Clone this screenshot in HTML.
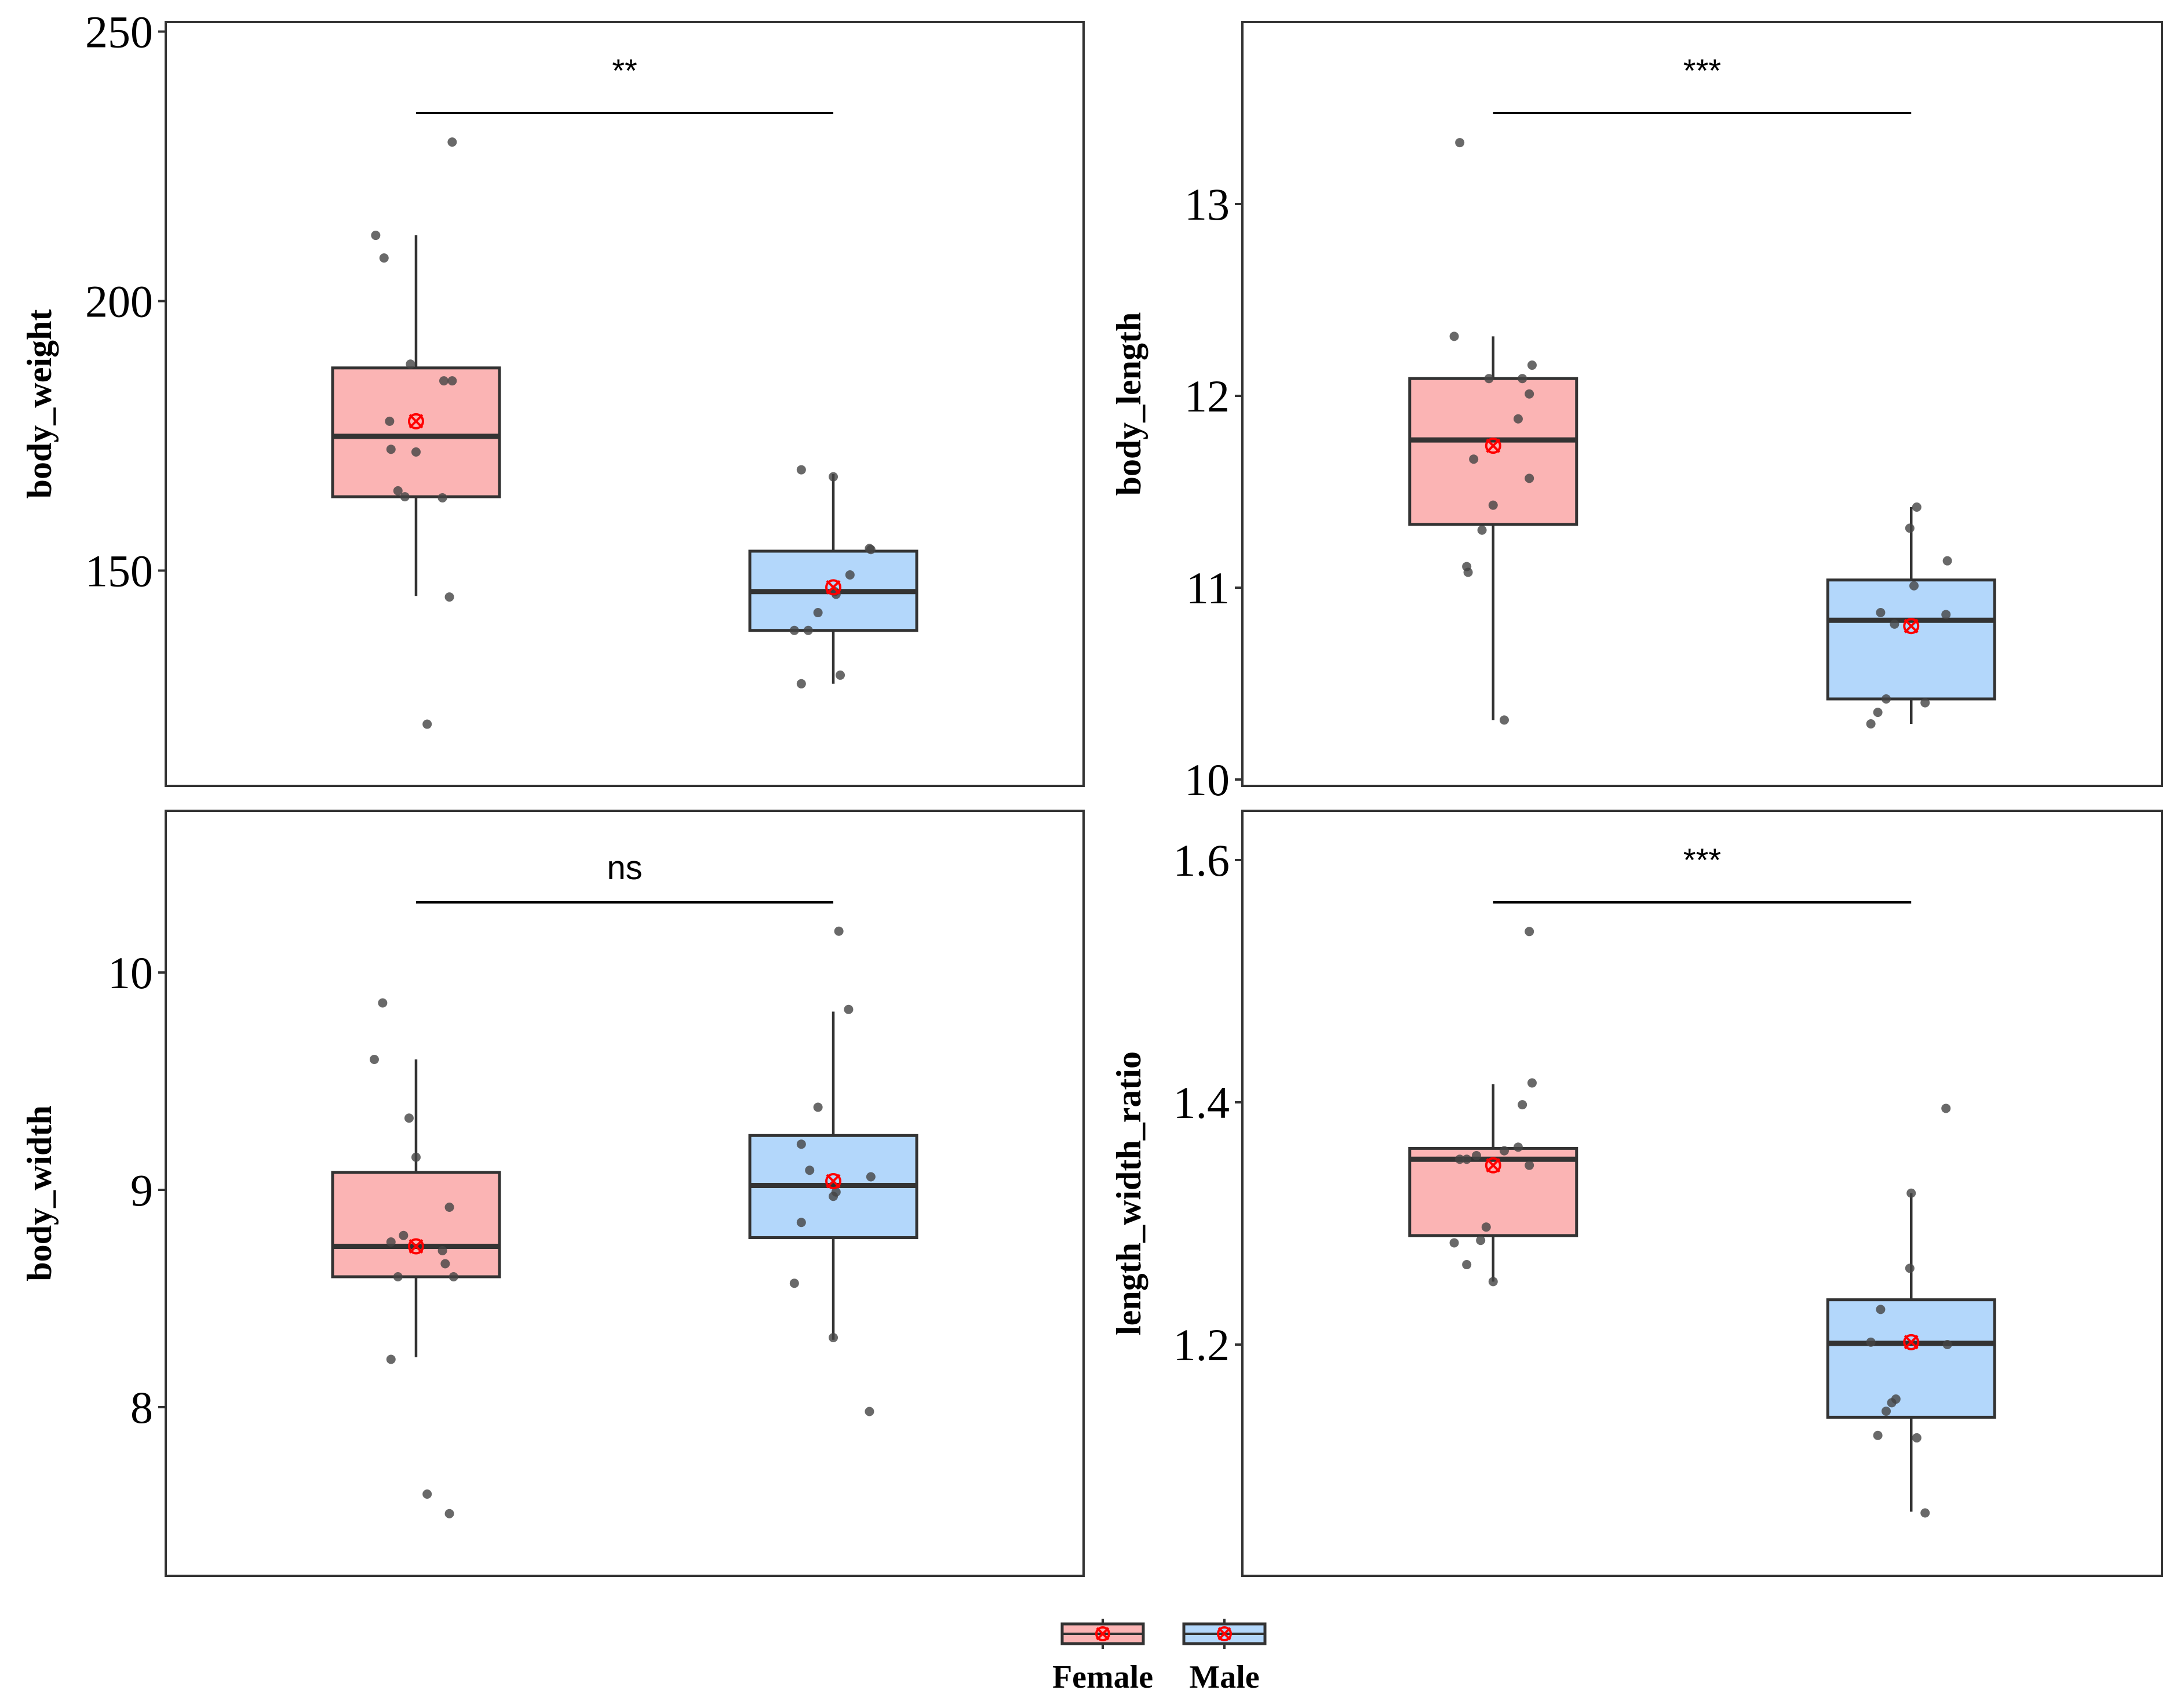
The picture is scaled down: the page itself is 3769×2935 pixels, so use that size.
<!DOCTYPE html>
<html><head><meta charset="utf-8"><style>
html,body{margin:0;padding:0;background:#fff;}
svg{display:block;}
</style></head><body>
<svg id="chart" width="3769" height="2935" viewBox="0 0 3769 2935" xmlns="http://www.w3.org/2000/svg"></svg>
<script>
// ---- data ----
const groups = ["Female","Male"];
const fills = ["#fbb4b4","#b3d7fb"];
const metrics = ["body_weight","body_length","body_width","length_width_ratio"];
const signif = ["**","***","ns","***"];
const ticks0 = [150,200,250];
const ticks1 = [10,11,12,13];
const ticks2 = [8,9,10];
const ticks3 = [1.2,1.4,1.6];
// box stats: [whiskerLow, q1, median, q3, whiskerHigh, mean]
const stats0F = [145.3,163.7,174.9,187.6,212.2,177.7];
const stats0M = [129.0,138.9,146.1,153.6,167.9,146.9];
const stats1F = [10.31,11.33,11.77,12.09,12.31,11.74];
const stats1M = [10.29,10.42,10.83,11.04,11.42,10.80];
const stats2F = [8.23,8.60,8.74,9.08,9.60,8.74];
const stats2M = [8.31,8.78,9.02,9.25,9.82,9.04];
const stats3F = [1.252,1.290,1.353,1.362,1.415,1.348];
const stats3M = [1.062,1.140,1.201,1.237,1.325,1.202];
// raw points
const pts0F = [229.5,212.2,208.0,188.3,185.2,185.2,177.7,172.5,172.0,164.8,163.7,163.5,145.1,121.5];
const jit0F = [26,-29,-23,-4,20,26,-19,-18,0,-13,-8,19,24,8];
const pts0M = [168.7,167.4,154.1,153.9,149.2,146.1,145.6,142.2,138.9,138.9,130.6,129.0];
const jit0M = [-23,0,26,27,12,1,2,-11,-18,-28,5,-23];
const pts1F = [13.32,12.31,12.16,12.09,12.09,12.01,11.88,11.57,11.67,11.43,11.30,11.11,11.08,10.31];
const jit1F = [-24,-28,28,-3,21,26,18,26,-14,0,-8,-19,-18,8];
const pts1M = [11.42,11.31,11.14,11.01,10.87,10.86,10.81,10.42,10.40,10.35,10.29];
const jit1M = [4,-1,26,2,-22,25,-12,-18,10,-24,-29];
const pts2F = [9.86,9.60,9.33,9.15,8.92,8.79,8.76,8.72,8.66,8.60,8.60,8.22,7.60,7.51];
const jit2F = [-24,-30,-5,0,24,-9,-18,19,21,-13,27,-18,8,24];
const pts2M = [10.19,9.83,9.38,9.21,9.09,9.06,8.99,8.97,8.85,8.57,8.32,7.98];
const jit2M = [4,11,-11,-23,-17,27,2,0,-23,-28,0,26];
const pts3F = [1.541,1.416,1.398,1.363,1.360,1.356,1.353,1.353,1.348,1.297,1.286,1.284,1.266,1.252];
const jit3F = [26,28,21,18,8,-12,-24,-19,26,-5,-9,-28,-19,0];
const pts3M = [1.395,1.325,1.263,1.229,1.202,1.200,1.155,1.152,1.145,1.125,1.123,1.061];
const jit3M = [25,0,-1,-22,-29,26,-11,-14,-18,-24,4,10];

// ---- layout ----
const NS="http://www.w3.org/2000/svg";
const svg=document.getElementById('chart');
function el(tag,attrs,parent){const e=document.createElementNS(NS,tag);for(const k in attrs)e.setAttribute(k,attrs[k]);(parent||svg).appendChild(e);return e;}
const panels=[
 {x0:286,x1:1870,y0:38,y1:1356,ticks:ticks0,t0:150,p0:984.5,t1:200,p1:519.5,stats:[stats0F,stats0M],pts:[pts0F,pts0M],jit:[jit0F,jit0M],labX:68,sigY:195},
 {x0:2144,x1:3731,y0:38,y1:1356,ticks:ticks1,t0:11,p0:1014,t1:12,p1:683,stats:[stats1F,stats1M],pts:[pts1F,pts1M],jit:[jit1F,jit1M],labX:1948,sigY:195},
 {x0:286,x1:1870,y0:1399,y1:2719,ticks:ticks2,t0:9,p0:2053,t1:10,p1:1678,stats:[stats2F,stats2M],pts:[pts2F,pts2M],jit:[jit2F,jit2M],labX:68,sigY:1557},
 {x0:2144,x1:3731,y0:1399,y1:2719,ticks:ticks3,t0:1.2,p0:2320,t1:1.4,p1:1902,stats:[stats3F,stats3M],pts:[pts3F,pts3M],jit:[jit3F,jit3M],labX:1948,sigY:1557}
];
const HALF=144; const JS=144/60;
panels.forEach((p,i)=>{
  const g=el('g',{});
  
  
  const y=v=>p.p0+(v-p.t0)*(p.p1-p.p0)/(p.t1-p.t0);
  const w=p.x1-p.x0;
  const xc=[p.x0+w*0.2727,p.x0+w*0.7273];
  const fr=el('rect',{x:p.x0,y:p.y0,width:w,height:p.y1-p.y0,fill:'none',stroke:'#333',"stroke-width":4},g);
  
  
  p.ticks.forEach(t=>{
    const ty=y(t);
    const tk=el('line',{x1:p.x0-13,x2:p.x0,y1:ty,y2:ty,stroke:'#333',"stroke-width":4},g);
    
    
    const tl=el('text',{x:p.x0-22,y:ty+27,"text-anchor":"end","font-family":"Liberation Serif, serif","font-size":78,fill:'#000'},g);
    tl.textContent=String(t);
    
    
  });
  const cy=(p.y0+p.y1)/2;
  const at=el('text',{x:p.labX,y:cy,transform:`rotate(-90 ${p.labX} ${cy})`,"text-anchor":"middle","dominant-baseline":"central","font-family":"Liberation Serif, serif","font-weight":"bold","font-size":60,fill:'#000'},g);
  at.textContent=metrics[i];
  
  
  const sb=el('line',{x1:xc[0],x2:xc[1],y1:p.sigY,y2:p.sigY,stroke:'#000',"stroke-width":4},g);
  
  
  const st=el('text',{x:(xc[0]+xc[1])/2,y:p.sigY-(signif[i]==='ns'?40:54),"text-anchor":"middle","font-family":"Liberation Sans, sans-serif","font-size":signif[i]==='ns'?58:56,fill:'#000'},g);
  st.textContent=signif[i];
  
  
  [0,1].forEach(k=>{
    const s=p.stats[k]; const x=xc[k];
    const wh=el('line',{x1:x,x2:x,y1:y(s[0]),y2:y(s[4]),stroke:'#333',"stroke-width":4.5},g);
    
    
    const bx=el('rect',{x:x-HALF,y:y(s[3]),width:2*HALF,height:y(s[1])-y(s[3]),fill:fills[k],stroke:'#333',"stroke-width":5},g);
    
    
    const md=el('line',{x1:x-HALF,x2:x+HALF,y1:y(s[2]),y2:y(s[2]),stroke:'#333',"stroke-width":9},g);
    
    
    p.pts[k].forEach((v,j)=>{
      const c=el('circle',{cx:x+p.jit[k][j]*JS,cy:y(v),r:8,fill:'#444',"fill-opacity":0.8},g);
      
      
    });
    const my=y(s[5]);
    const mg=el('g',{stroke:'#f00',"stroke-width":4,fill:'none'},g);
    
    
    el('circle',{cx:x,cy:my,r:12},mg);
    el('line',{x1:x-11,y1:my-11,x2:x+11,y2:my+11},mg);
    el('line',{x1:x-11,y1:my+11,x2:x+11,y2:my-11},mg);
  });
});
const legX=[1903,2113];
groups.forEach((gname,k)=>{
  const lg=el('g',{});
  
  
  const x=legX[k];
  el('line',{x1:x,x2:x,y1:2793,y2:2845,stroke:'#333',"stroke-width":4},lg);
  el('rect',{x:x-70,y:2802,width:140,height:34,fill:fills[k],stroke:'#333',"stroke-width":5},lg);
  el('line',{x1:x-70,x2:x+70,y1:2819,y2:2819,stroke:'#333',"stroke-width":4},lg);
  el('circle',{cx:x,cy:2819,r:11,fill:'none',stroke:'#f00',"stroke-width":4},lg);
  el('line',{x1:x-10,y1:2809,x2:x+10,y2:2829,stroke:'#f00',"stroke-width":4},lg);
  el('line',{x1:x-10,y1:2829,x2:x+10,y2:2809,stroke:'#f00',"stroke-width":4},lg);
  const t=el('text',{x:x,y:2912,"text-anchor":"middle","font-family":"Liberation Serif, serif","font-weight":"bold","font-size":56,fill:'#000'},lg);
  t.textContent=gname;
  
  
});
</script>
</body></html>
